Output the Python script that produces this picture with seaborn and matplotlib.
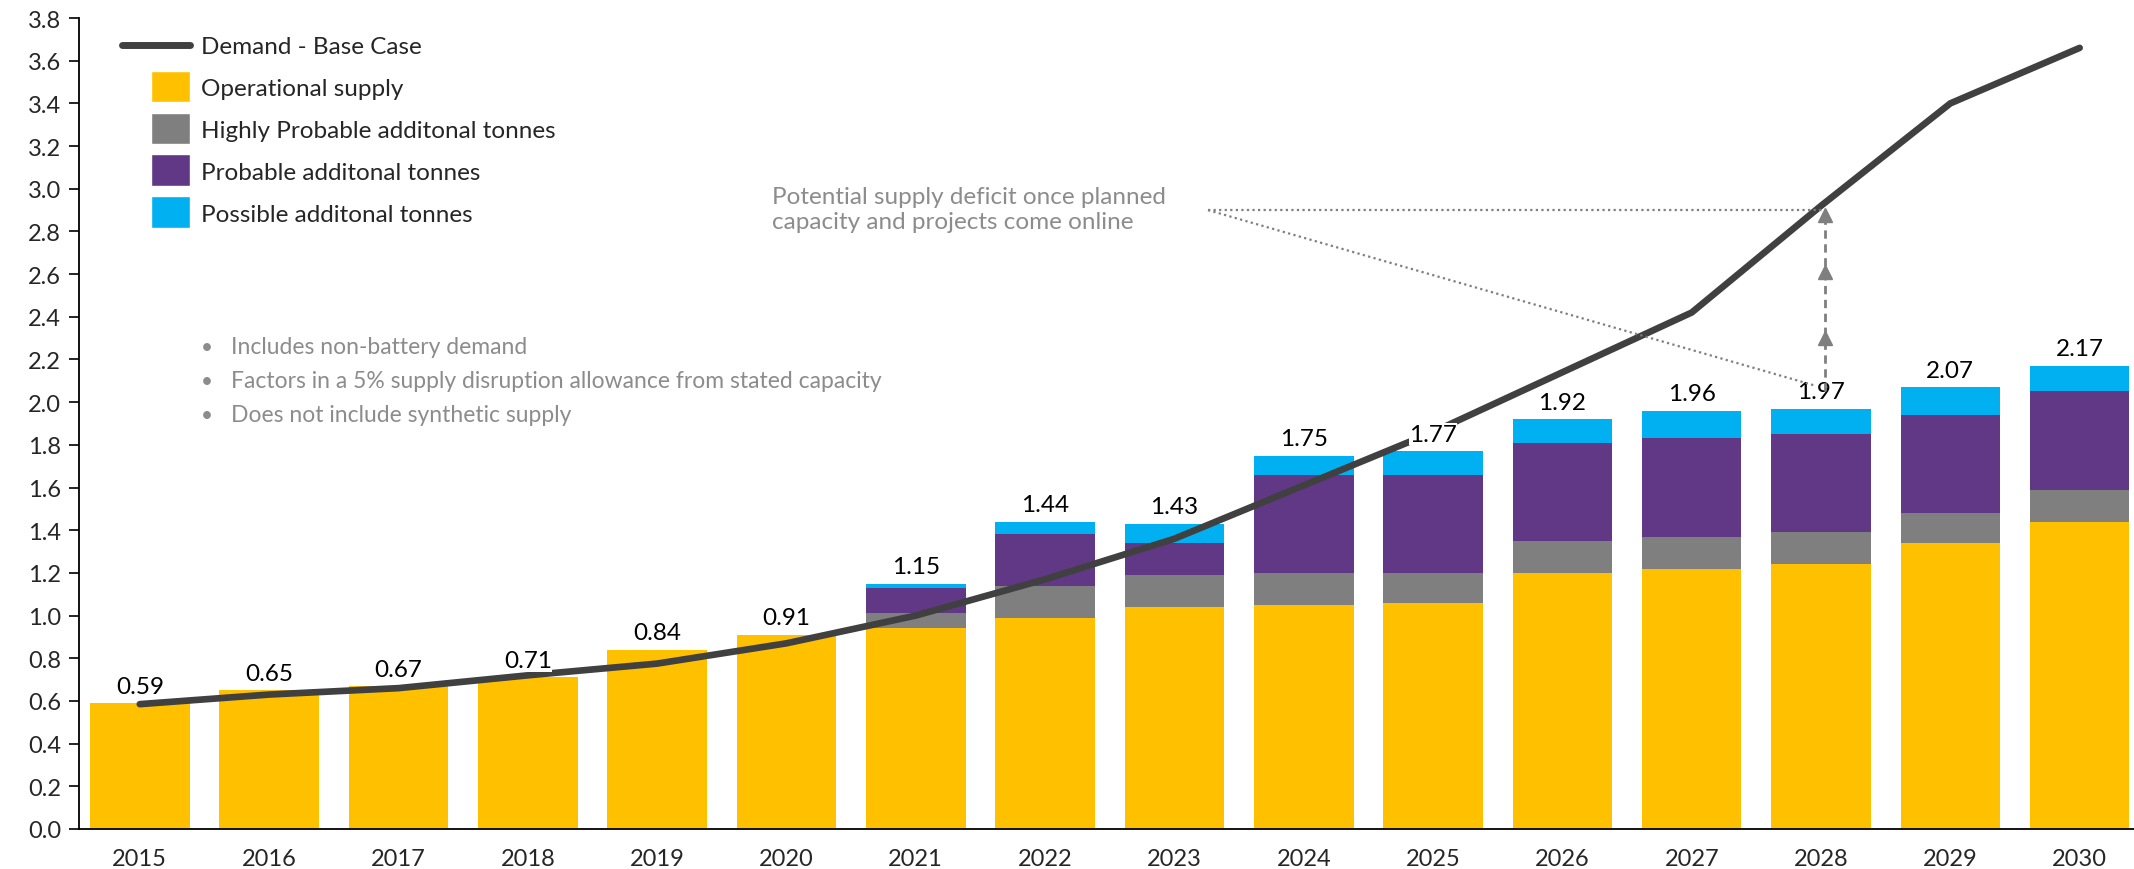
import numpy as np
import pandas as pd
import matplotlib
matplotlib.use("Agg")
import matplotlib.pyplot as plt
import seaborn as sns
from matplotlib.patches import Rectangle, Patch
from matplotlib.lines import Line2D
from matplotlib.legend_handler import HandlerPatch

# data (million tonnes)
years = [str(y) for y in range(2015, 2031)]
operational = [0.59, 0.65, 0.67, 0.71, 0.84, 0.91, 0.94, 0.99, 1.04, 1.05, 1.06, 1.20, 1.22, 1.24, 1.34, 1.44]
highly_probable = [0, 0, 0, 0, 0, 0, 0.07, 0.15, 0.15, 0.15, 0.14, 0.15, 0.15, 0.15, 0.14, 0.15]
probable = [0, 0, 0, 0, 0, 0, 0.12, 0.24, 0.15, 0.46, 0.46, 0.46, 0.46, 0.46, 0.46, 0.46]
possible = [0, 0, 0, 0, 0, 0, 0.02, 0.06, 0.09, 0.09, 0.11, 0.11, 0.13, 0.12, 0.13, 0.12]
demand = [0.585, 0.63, 0.66, 0.72, 0.775, 0.87, 1.00, 1.17, 1.36, 1.61, 1.86, 2.14, 2.42, 2.92, 3.40, 3.66]
total_labels = ["0.59", "0.65", "0.67", "0.71", "0.84", "0.91", "1.15", "1.44",
                "1.43", "1.75", "1.77", "1.92", "1.96", "1.97", "2.07", "2.17"]

notes = ["Includes non-battery demand",
         "Factors in a 5% supply disruption allowance from stated capacity",
         "Does not include synthetic supply"]

YELLOW = "#FFC000"
GREY = "#7F7F7F"
PURPLE = "#613885"
BLUE = "#00B0F0"
LINE = "#404040"
NOTE = "#8C8C8C"

sns.set_theme(style="white")
plt.rcParams["font.family"] = ["Lato", "DejaVu Sans"]

df = pd.DataFrame({"year": years})
df["op"] = np.array(operational)
df["hp"] = df["op"] + np.array(highly_probable)
df["pr"] = df["hp"] + np.array(probable)
df["po"] = df["pr"] + np.array(possible)

fig = plt.figure(figsize=(21.34, 8.70), dpi=100)
ax = fig.add_axes([79 / 2134, 40 / 870, 1 - 79 / 2134, 811 / 870])

# stacked bars: draw cumulative heights from tallest to shortest
for col, color in [("po", BLUE), ("pr", PURPLE), ("hp", GREY), ("op", YELLOW)]:
    sns.barplot(data=df, x="year", y=col, color=color, saturation=1, width=0.77,
                errorbar=None, linewidth=0, ax=ax, zorder=2)

xs = np.arange(len(years))
sns.lineplot(x=xs, y=demand, color=LINE, linewidth=4.8, ax=ax, zorder=3,
             solid_capstyle="round", solid_joinstyle="round")

for i, lab in enumerate(total_labels):
    ax.text(i, df["po"][i] + 0.03, lab, ha="center", va="bottom", fontsize=17.5,
            color="black", zorder=4,
            bbox=dict(facecolor="white", edgecolor="none", pad=0.3))

# supply deficit callout
x0, y0 = 8.26, 2.90
ax.plot([x0, 13.03], [y0, y0], ls=(0, (1, 1.5)), color=GREY, lw=1.6, zorder=5)
ax.plot([x0, 12.94], [y0, 2.08], ls=(0, (1, 1.5)), color=GREY, lw=1.6, zorder=5)
ax.plot([13.03, 13.03], [2.05, 2.87], ls=(0, (3, 2)), color=GREY, lw=2, zorder=5)
ax.plot([13.03] * 3, [2.30, 2.61, 2.875], ls="none", marker="^", markersize=10,
        color=GREY, zorder=5)

fig.text(772 / 2134, 1 - 210 / 870,
         "Potential supply deficit once planned\ncapacity and projects come online",
         ha="left", va="center", fontsize=17.5, color=NOTE, linespacing=1.2)

for k, note in enumerate(notes):
    yy = 1 - (348 + 34 * k) / 870
    fig.text(201 / 2134, yy, "\u2022", ha="left", va="center", fontsize=15, color=NOTE)
    fig.text(231 / 2134, yy, note, ha="left", va="center", fontsize=16.5, color=NOTE)

ax.set_xlim(-0.47, 15.42)
ax.set_ylim(0, 3.8)
ax.set_yticks(np.arange(0, 3.81, 0.2))
ax.set_yticklabels([f"{v:.1f}" for v in np.arange(0, 3.81, 0.2)])
ax.set_xlabel("")
ax.set_ylabel("")
ax.tick_params(axis="y", direction="out", length=7, width=1.2, color="black",
               labelsize=17, pad=6, left=True)
ax.tick_params(axis="x", length=0, labelsize=17, pad=14)
sns.despine(ax=ax, top=True, right=True)
for s in ["left", "bottom"]:
    ax.spines[s].set_color("black")
    ax.spines[s].set_linewidth(1.3)


def square_patch(legend, orig_handle, xdescent, ydescent, width, height, fontsize):
    w, h = 1.6 * fontsize, 1.3 * fontsize
    return Rectangle((-xdescent + width - w, -ydescent + height / 2 - h / 2), w, h)


handles = [Line2D([], [], color=LINE, lw=5),
           Patch(facecolor=YELLOW), Patch(facecolor=GREY),
           Patch(facecolor=PURPLE), Patch(facecolor=BLUE)]
labels = ["Demand - Base Case", "Operational supply", "Highly Probable additonal tonnes",
          "Probable additonal tonnes", "Possible additonal tonnes"]
fig.legend(handles, labels, loc="upper left", bbox_to_anchor=(122 / 2134, 1 - 37 / 870),
           frameon=False, fontsize=17.5, handlelength=2.8, handletextpad=0.45,
           labelspacing=0.86, borderpad=0, borderaxespad=0,
           handler_map={Patch: HandlerPatch(patch_func=square_patch)})

fig.savefig("out.png", dpi=100)
